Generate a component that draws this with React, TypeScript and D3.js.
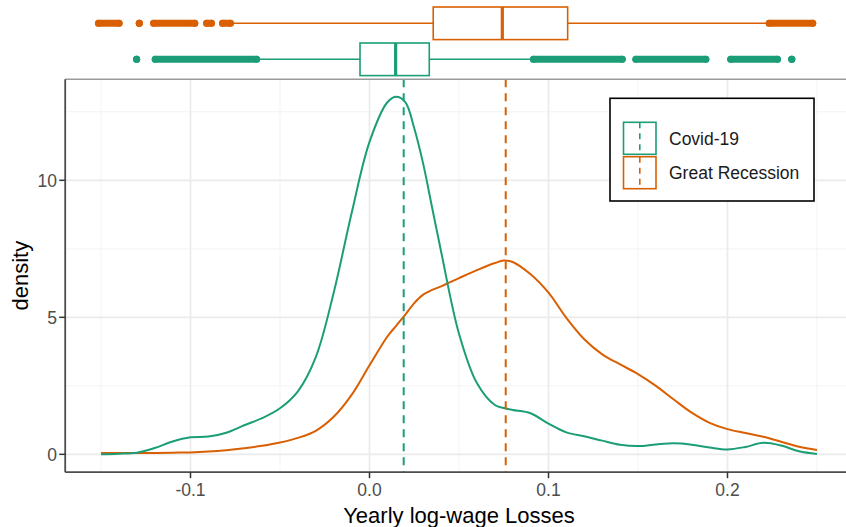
import React, { useEffect, useRef } from 'react';
import * as d3 from 'd3';

// grille commune des x pour les deux densites
const lossX = [
  -0.15, -0.14, -0.13, -0.12, -0.11, -0.1, -0.09, -0.08, -0.07, -0.06, -0.05, -0.04, -0.03, -0.02, -0.01,
  0.0, 0.01, 0.015, 0.02, 0.025, 0.03, 0.035, 0.04, 0.05, 0.06, 0.07, 0.075, 0.08, 0.09, 0.1, 0.11, 0.12,
  0.13, 0.14, 0.15, 0.16, 0.17, 0.18, 0.19, 0.2, 0.21, 0.22, 0.23, 0.24, 0.25,
];
const covidDensity = [
  0.0, 0.02, 0.06, 0.23, 0.47, 0.62, 0.65, 0.79, 1.06, 1.32, 1.68, 2.3, 3.55, 5.9, 8.8,
  11.4, 12.85, 13.05, 12.85, 11.9, 10.6, 9.0, 7.4, 4.4, 2.6, 1.8, 1.69, 1.62, 1.5, 1.12, 0.8, 0.66,
  0.5, 0.35, 0.3, 0.36, 0.4, 0.35, 0.25, 0.18, 0.27, 0.42, 0.32, 0.11, 0.01,
];
const recessionDensity = [
  0.05, 0.05, 0.05, 0.05, 0.06, 0.07, 0.1, 0.15, 0.22, 0.31, 0.43, 0.6, 0.86, 1.37, 2.17,
  3.25, 4.3, 4.7, 5.1, 5.52, 5.83, 6.0, 6.13, 6.43, 6.72, 6.98, 7.07, 7.02, 6.57, 5.9, 4.98, 4.2,
  3.65, 3.28, 2.93, 2.5, 2.0, 1.52, 1.15, 0.92, 0.78, 0.64, 0.46, 0.28, 0.16,
];

// boxplots (haut -> bas)
const groups = ['Great Recession', 'Covid-19'];
const groupColors = ['#d95f02', '#1b9e77'];
const boxQ1 = [0.0356, -0.0053];
const boxMedian = [0.0742, 0.0146];
const boxQ3 = [0.1107, 0.0334];
const whiskerLow = [-0.0757, -0.0612];
const whiskerHigh = [0.2219, 0.0897];
const groupMeans = [0.0761, 0.0191];
// outliers en paquets [debut, fin]
const recessionOutliers = [
  [-0.1514, -0.1399], [-0.1286, -0.1286], [-0.1206, -0.0976], [-0.091, -0.0883], [-0.0821, -0.0777],
  [0.2233, 0.2476],
];
const covidOutliers = [
  [-0.1301, -0.1301], [-0.1197, -0.0631], [0.0916, 0.1412], [0.1488, 0.1879], [0.2018, 0.2279],
  [0.2359, 0.2359],
];

const xMajor = [-0.1, 0, 0.1, 0.2];
const xTickLabels = ['-0.1', '0.0', '0.1', '0.2'];
const xMinor = [-0.15, -0.05, 0.05, 0.15, 0.25];
const yMajor = [0, 5, 10];
const yMinor = [2.5, 7.5, 12.5];
const legendLabels = ['Covid-19', 'Great Recession'];
const legendColors = ['#1b9e77', '#d95f02'];

const FONT = '"Liberation Sans", Arial, sans-serif';

const App = () => {
  const svgRef = useRef<SVGSVGElement>(null);

  useEffect(() => {
    const svg = d3.select(svgRef.current);
    svg.selectAll('*').remove();

    const left = 65.2, right = 852.8, top = 79.2, bottom = 472.2;
    const x = d3.scaleLinear().domain([-0.17, 0.27]).range([left, right]);
    const y = d3.scaleLinear().domain([-0.652, 13.69]).range([bottom, top]);
    const band = d3.scalePoint().domain(groups).range([23.3, 59.3]);
    const boxH = 32.6;

    // grille
    const grid = svg.append('g');
    grid.selectAll('line.xmin').data(xMinor).enter().append('line')
      .attr('x1', d => x(d)).attr('x2', d => x(d)).attr('y1', top).attr('y2', bottom)
      .attr('stroke', '#f2f2f2').attr('stroke-width', 0.9);
    grid.selectAll('line.ymin').data(yMinor).enter().append('line')
      .attr('x1', left).attr('x2', right).attr('y1', d => y(d)).attr('y2', d => y(d))
      .attr('stroke', '#f2f2f2').attr('stroke-width', 0.9);
    grid.selectAll('line.xmaj').data(xMajor).enter().append('line')
      .attr('x1', d => x(d)).attr('x2', d => x(d)).attr('y1', top).attr('y2', bottom)
      .attr('stroke', '#ebebeb').attr('stroke-width', 1.7);
    grid.selectAll('line.ymaj').data(yMajor).enter().append('line')
      .attr('x1', left).attr('x2', right).attr('y1', d => y(d)).attr('y2', d => y(d))
      .attr('stroke', '#ebebeb').attr('stroke-width', 1.7);

    // courbes de densite
    const line = d3.line<number>()
      .x((d, i) => x(lossX[i]))
      .y(d => y(d))
      .curve(d3.curveCatmullRom.alpha(0.5));
    svg.append('path').attr('d', line(recessionDensity)).attr('fill', 'none')
      .attr('stroke', '#d95f02').attr('stroke-width', 2);
    svg.append('path').attr('d', line(covidDensity)).attr('fill', 'none')
      .attr('stroke', '#1b9e77').attr('stroke-width', 2);

    // moyennes
    svg.selectAll('line.mean').data(groupMeans).enter().append('line')
      .attr('x1', d => x(d)).attr('x2', d => x(d)).attr('y1', top).attr('y2', bottom)
      .attr('stroke', (d, i) => groupColors[i]).attr('stroke-width', 2)
      .attr('stroke-dasharray', '8,6');

    // bordures
    svg.append('line').attr('x1', left).attr('x2', 846).attr('y1', top).attr('y2', top)
      .attr('stroke', '#9a9a9a').attr('stroke-width', 1.5);
    svg.append('line').attr('x1', left).attr('x2', left).attr('y1', top).attr('y2', bottom)
      .attr('stroke', '#4d4d4d').attr('stroke-width', 1.8);
    svg.append('line').attr('x1', left).attr('x2', 846).attr('y1', bottom).attr('y2', bottom)
      .attr('stroke', '#4d4d4d').attr('stroke-width', 1.8);

    // ticks
    svg.selectAll('line.xt').data(xMajor).enter().append('line')
      .attr('x1', d => x(d)).attr('x2', d => x(d)).attr('y1', bottom).attr('y2', bottom + 6)
      .attr('stroke', '#333').attr('stroke-width', 1.5);
    svg.selectAll('text.xt').data(xMajor).enter().append('text')
      .attr('x', d => x(d)).attr('y', 495.5).attr('text-anchor', 'middle')
      .attr('font-family', FONT).attr('font-size', 17.5).attr('fill', '#4d4d4d')
      .text((d, i) => xTickLabels[i]);
    svg.selectAll('line.yt').data(yMajor).enter().append('line')
      .attr('x1', left - 6).attr('x2', left).attr('y1', d => y(d)).attr('y2', d => y(d))
      .attr('stroke', '#333').attr('stroke-width', 1.5);
    svg.selectAll('text.yt').data(yMajor).enter().append('text')
      .attr('x', 57).attr('y', d => y(d) + 6.3).attr('text-anchor', 'end')
      .attr('font-family', FONT).attr('font-size', 17.5).attr('fill', '#4d4d4d')
      .text(d => d);

    // titres
    svg.append('text').attr('x', (left + right) / 2).attr('y', 523).attr('text-anchor', 'middle')
      .attr('font-family', FONT).attr('font-size', 22).attr('fill', '#000')
      .text('Yearly log-wage Losses');
    svg.append('text').attr('transform', `translate(28,${(top + bottom) / 2}) rotate(-90)`)
      .attr('text-anchor', 'middle').attr('font-family', FONT).attr('font-size', 22)
      .attr('fill', '#000').text('density');

    // boxplots du haut
    groups.forEach((g, i) => {
      const cy = band(g) as number;
      const col = groupColors[i];
      const bg = svg.append('g');
      bg.append('line').attr('x1', x(whiskerLow[i])).attr('x2', x(boxQ1[i]))
        .attr('y1', cy).attr('y2', cy).attr('stroke', col).attr('stroke-width', 1.6);
      bg.append('line').attr('x1', x(boxQ3[i])).attr('x2', x(whiskerHigh[i]))
        .attr('y1', cy).attr('y2', cy).attr('stroke', col).attr('stroke-width', 1.6);
      bg.append('rect').attr('x', x(boxQ1[i])).attr('y', cy - boxH / 2)
        .attr('width', x(boxQ3[i]) - x(boxQ1[i])).attr('height', boxH)
        .attr('fill', '#fff').attr('stroke', col).attr('stroke-width', 1.6);
      bg.append('line').attr('x1', x(boxMedian[i])).attr('x2', x(boxMedian[i]))
        .attr('y1', cy - boxH / 2).attr('y2', cy + boxH / 2)
        .attr('stroke', col).attr('stroke-width', 3.2);

      const runs = i === 0 ? recessionOutliers : covidOutliers;
      bg.selectAll('line.out').data(runs).enter().append('line')
        .attr('x1', d => x(d[0])).attr('x2', d => x(d[1])).attr('y1', cy).attr('y2', cy)
        .attr('stroke', col).attr('stroke-width', 7).attr('stroke-linecap', 'round');
      bg.selectAll('circle.out').data(runs.flat()).enter().append('circle')
        .attr('cx', d => x(d)).attr('cy', cy).attr('r', 3.5).attr('fill', col);
    });

    // legende
    const lg = svg.append('g');
    lg.append('rect').attr('x', 610).attr('y', 98.3).attr('width', 204).attr('height', 102.7)
      .attr('fill', '#fff').attr('stroke', '#000').attr('stroke-width', 1.6);
    legendLabels.forEach((lab, i) => {
      const ky = 122.3 + i * 34.4;
      lg.append('rect').attr('x', 623.5).attr('y', ky).attr('width', 32.5).attr('height', 32)
        .attr('fill', '#fff').attr('stroke', legendColors[i]).attr('stroke-width', 1.6);
      lg.append('line').attr('x1', 639.8).attr('x2', 639.8).attr('y1', ky).attr('y2', ky + 32)
        .attr('stroke', legendColors[i]).attr('stroke-width', 1.6).attr('stroke-dasharray', '6,5');
      lg.append('text').attr('x', 669).attr('y', ky + 22.5)
        .attr('font-family', FONT).attr('font-size', 17.5).attr('fill', '#1a1a1a').text(lab);
    });
  }, []);

  return (
    <div style={{ position: 'absolute', left: 0, top: 0 }}>
      <svg ref={svgRef} width={846} height={527} style={{ display: 'block' }}></svg>
    </div>
  );
};

export default App;
